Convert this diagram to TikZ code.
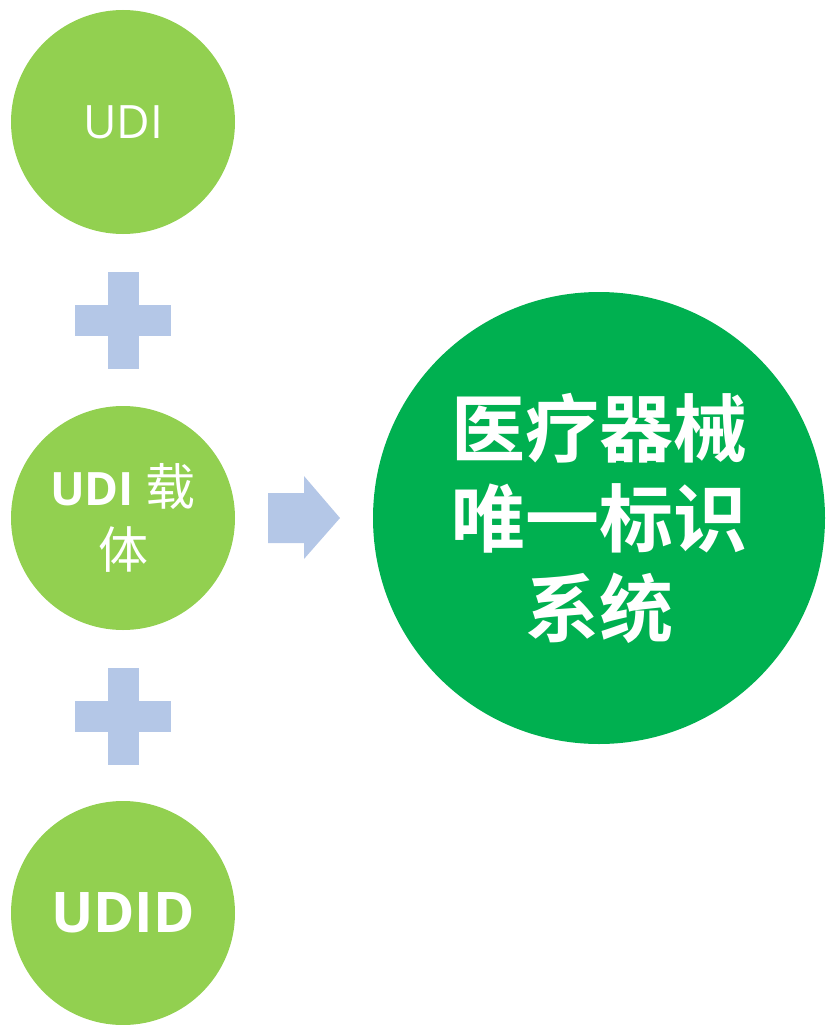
\documentclass[tikz,border=0pt]{standalone}
\usepackage{fontspec}
\setmainfont{Open Sans}
\newfontfamily\cjk{Noto Sans CJK SC}
\newfontfamily\cjkb{Noto Sans CJK SC Bold}
\definecolor{lgreen}{HTML}{92D050}
\definecolor{dgreen}{HTML}{00B050}
\definecolor{pblue}{HTML}{B4C7E7}
\begin{document}
\begin{tikzpicture}[x=1pt,y=-1pt,
  small/.style={circle,fill=lgreen,minimum size=224pt,inner sep=0pt,text=white,align=center},
  big/.style={circle,fill=dgreen,minimum size=452pt,inner sep=0pt,text=white,align=center},
  plusbar/.style={fill=pblue}]
\useasboundingbox (0,0) rectangle (826,1025);
\begin{scope}
\clip (0,0) rectangle (826,1025);
\node[small,font=\fontsize{46}{50}\selectfont] (udi) at (123,122) {UDI};
\node[small,font=\fontsize{46}{63}\selectfont] (carrier) at (123,518) {\textbf{UDI} {\cjk\fontsize{50}{63}\selectfont 载}\\{\cjk\fontsize{50}{63}\selectfont 体}};
\node[small,font=\fontsize{56}{60}\selectfont\bfseries] (udid) at (123,913) {UDID};
\node[big,font=\cjkb\fontsize{74}{90}\selectfont] (sys) at (599,518) {医疗器械\\唯一标识\\系统};
\end{scope}
% plus signs
\coordinate (p1) at (123,320);
\coordinate (p2) at (123,716);
\foreach \p in {p1,p2}{
  \fill[plusbar] ([xshift=-15.5pt,yshift=48.5pt]\p) rectangle ([xshift=15.5pt,yshift=-48.5pt]\p);
  \fill[plusbar] ([xshift=-48pt,yshift=15.5pt]\p) rectangle ([xshift=48pt,yshift=-15.5pt]\p);
}
% arrow
\fill[pblue] (268,493) -- (304,493) -- (304,476) -- (340,518) -- (304,559) -- (304,543) -- (268,543) -- cycle;
\end{tikzpicture}
\end{document}
